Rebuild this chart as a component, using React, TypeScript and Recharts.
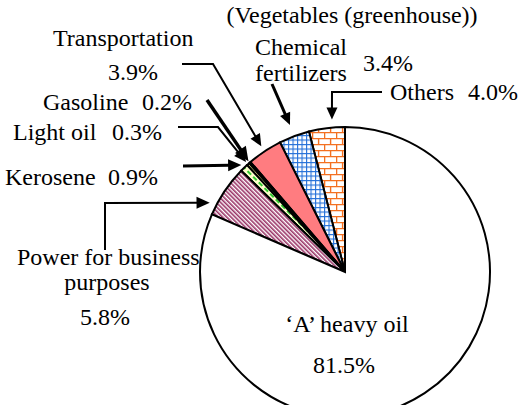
import React from "react";
import { PieChart, Pie, Cell } from "recharts";

// shares of CO2 emission sources, vegetables grown in greenhouses (%)
const categories = [
  "Others",
  "Chemical fertilizers",
  "Transportation",
  "Gasoline",
  "Light oil",
  "Kerosene",
  "Power for business purposes",
  "'A' heavy oil",
];
const shares = [4.0, 3.4, 3.9, 0.2, 0.3, 0.9, 5.8, 81.5];
const percentLabels = shares.map((v) => v.toFixed(1) + "%");
const title = "(Vegetables (greenhouse))";

const fills = [
  "url(#brick)",
  "url(#grid)",
  "#FF7C80",
  "#333333",
  "#FFFF99",
  "url(#dashes)",
  "url(#stripes)",
  "#FFFFFF",
];

const textStyle = { fontFamily: "Liberation Serif", fontSize: 24 };

type Pt = [number, number];
type Line = [string, number, number, "start" | "middle" | "end"];
interface Note {
  lines: Line[]; // "%" is replaced by the slice's percentage
  path?: Pt[]; // tail points, offsets from the pie centre
  shift?: number; // tip angle offset from slice mid angle
  gap?: number;
  width?: number;
  head?: number;
}

// annotation layout, offsets from the pie centre
const notes: Record<string, Note> = {
  Others: {
    lines: [["Others", 45, -172, "start"], ["%", 173, -172, "end"]],
    path: [[37, -180], [-13, -180]],
    shift: -2.3,
    gap: 8,
    width: 2,
    head: 11,
  },
  "Chemical fertilizers": {
    lines: [
      ["Chemical", -90, -217, "start"],
      ["fertilizers", -90, -191, "start"],
      ["%", 18, -201, "start"],
    ],
    path: [[-73, -188]],
    gap: 12,
    width: 3,
    head: 11,
  },
  Transportation: {
    lines: [["Transportation", -292, -226, "start"], ["%", -187, -192, "end"]],
    path: [[-163, -208], [-132, -208]],
    gap: 6,
    width: 2,
    head: 11,
  },
  Gasoline: {
    lines: [["Gasoline", -302, -162, "start"], ["%", -153, -162, "end"]],
    path: [[-138, -172]],
    gap: 2,
    width: 3.5,
    head: 13,
  },
  "Light oil": {
    lines: [["Light oil", -332, -132, "start"], ["%", -183, -132, "end"]],
    path: [[-167, -145], [-127, -145]],
    gap: 3,
    width: 2,
    head: 11,
  },
  Kerosene: {
    lines: [["Kerosene", -340, -87, "start"], ["%", -187, -87, "end"]],
    path: [[-162, -106]],
    gap: 4,
    width: 3,
    head: 12,
  },
  "Power for business purposes": {
    lines: [
      ["Power for business", -328, -7, "start"],
      ["purposes", -238, 18, "middle"],
      ["%", -240, 53, "middle"],
    ],
    path: [[-240, -22], [-240, -69]],
    shift: 6.7,
    gap: 7,
    width: 2,
    head: 12,
  },
  "'A' heavy oil": {
    lines: [["\u2018A\u2019 heavy oil", 2, 60, "middle"], ["%", -1, 101, "middle"]],
  },
};

const data = categories.map((name, i) => ({ name, value: shares[i] }));

function Arrow({ pts, width, head }: { pts: Pt[]; width: number; head: number }) {
  const [tx, ty] = pts[pts.length - 1];
  const [px, py] = pts[pts.length - 2];
  const len = Math.hypot(tx - px, ty - py);
  const ux = (tx - px) / len;
  const uy = (ty - py) / len;
  const L = head * 1.1;
  const W = head / 2;
  const bx = tx - ux * L;
  const by = ty - uy * L;
  const line = [...pts.slice(0, -1), [bx + ux * 1, by + uy * 1]];
  return (
    <g>
      <polyline
        points={line.map((p) => p.join(",")).join(" ")}
        fill="none"
        stroke="#000"
        strokeWidth={width}
      />
      <polygon
        points={`${tx},${ty} ${bx - uy * W},${by + ux * W} ${bx + uy * W},${by - ux * W}`}
        fill="#000"
      />
    </g>
  );
}

const renderLabel = (p: any) => {
  const name = categories[p.index];
  const note = notes[name];
  if (!note) return null;
  const { cx, cy, midAngle, outerRadius } = p;
  let arrow = null;
  if (note.path) {
    const a = ((midAngle + (note.shift ?? 0)) * Math.PI) / 180;
    const r = outerRadius + (note.gap ?? 6);
    const tip: Pt = [cx + r * Math.cos(a), cy - r * Math.sin(a)];
    const pts: Pt[] = [...note.path.map(([dx, dy]) => [cx + dx, cy + dy] as Pt), tip];
    arrow = <Arrow pts={pts} width={note.width ?? 2} head={note.head ?? 11} />;
  }
  return (
    <g key={name}>
      {arrow}
      {note.lines.map(([t, dx, dy, anchor], k) => (
        <text
          key={k}
          x={cx + dx}
          y={cy + dy}
          textAnchor={anchor}
          style={textStyle}
          fill="#000"
        >
          {t === "%" ? percentLabels[p.index] : t}
        </text>
      ))}
    </g>
  );
};

function Patterns() {
  return (
    <svg width={0} height={0} style={{ position: "absolute" }}>
      <defs>
        <pattern id="brick" width={12} height={12} patternUnits="userSpaceOnUse">
          <rect width={12} height={12} fill="#fff" />
          <path
            d="M0 0.6H12 M0 6.6H12 M0.6 0V6 M6.6 6V12"
            stroke="#F37021"
            strokeWidth={1.4}
          />
        </pattern>
        <pattern id="grid" width={4.5} height={4.5} patternUnits="userSpaceOnUse">
          <rect width={4.5} height={4.5} fill="#fff" />
          <path d="M0 0.5H4.5 M0.5 0V4.5" stroke="#2470D8" strokeWidth={1.2} />
        </pattern>
        <pattern
          id="dashes"
          width={8}
          height={4}
          patternUnits="userSpaceOnUse"
          patternTransform="rotate(45)"
        >
          <rect width={8} height={4} fill="#FFFFCC" />
          <rect x={0} y={1} width={5} height={2} fill="#33CC33" />
        </pattern>
        <pattern
          id="stripes"
          width={3}
          height={3}
          patternUnits="userSpaceOnUse"
          patternTransform="rotate(-45)"
        >
          <rect width={3} height={3} fill="#fff" />
          <rect width={1.6} height={3} fill="#993366" />
        </pattern>
      </defs>
    </svg>
  );
}

export default function App() {
  return (
    <div
      style={{
        position: "fixed",
        left: 0,
        top: 0,
        width: 525,
        height: 405,
        overflow: "hidden",
        background: "#fff",
      }}
    >
      <Patterns />
      <PieChart width={525} height={405} margin={{ top: 0, right: 0, bottom: 0, left: 0 }}>
        <text x={352} y={23} textAnchor="middle" style={textStyle} fill="#000">
          {title}
        </text>
        <Pie
          data={data}
          dataKey="value"
          nameKey="name"
          cx={345}
          cy={272}
          innerRadius={0}
          outerRadius={145}
          startAngle={90}
          endAngle={450}
          stroke="#000"
          strokeWidth={2}
          label={renderLabel}
          labelLine={false}
          isAnimationActive={false}
        >
          {data.map((d, i) => (
            <Cell key={d.name} fill={fills[i]} />
          ))}
        </Pie>
      </PieChart>
    </div>
  );
}
